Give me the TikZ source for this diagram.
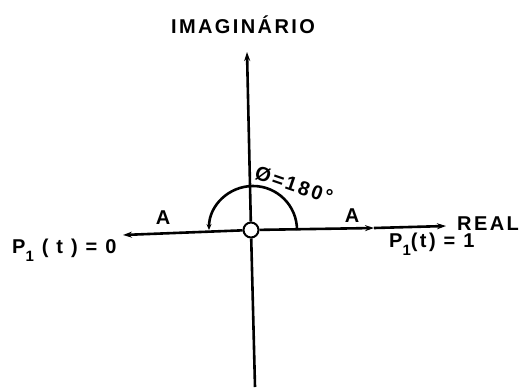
\documentclass[tikz,border=0pt]{standalone}
\usepackage{fontspec}
\setmainfont{Liberation Sans}[LetterSpace=12]
\usetikzlibrary{arrows.meta}
\begin{document}
\begin{tikzpicture}[x=1pt,y=-1pt,
  lbl/.style={font=\bfseries\fontsize{20}{20}\selectfont, inner sep=0pt},
  ax/.style={line width=2.6pt},
  tip/.style={-{Stealth[length=9pt,width=6pt]}}]
\useasboundingbox (0,0) rectangle (521,389);
% origin
\node[draw, circle, minimum size=15pt, line width=2pt, fill=white, inner sep=0pt] (o) at (251,230) {};
\coordinate (top) at (247,52);
\coordinate (bot) at (255,387);
\coordinate (lend) at (123,235);
\coordinate (aend) at (374,228);
\coordinate (rend) at (446,226);
\draw[ax, tip] (o) -- (top);
\draw[ax] (o) -- (bot);
\draw[ax, tip] (o) -- (lend);
\draw[ax, tip] (o) -- (aend);
\draw[ax, tip] (aend) -- (rend);
% angle arc
\draw[ax, -{Stealth[length=6pt,width=5pt]}] ([xshift=46pt]o.center) arc[start angle=0, end angle=180, radius=44pt];
% labels
\node[lbl] (imag) at (243,25) {IMAGINÁRIO};
\node[lbl] (a1) at (163,218) {A};
\node[lbl] (a2) at (352,216) {A};
\node[lbl, rotate=-19] (phi) at (294,185) {Ø=180°};
\node[lbl, anchor=west] (p0) at (12,250) {P\raisebox{-8pt}{\fontsize{15}{15}\selectfont 1} ( t ) = 0};
\node[lbl, anchor=west] (p1) at (389,244) {P\raisebox{-8pt}{\fontsize{15}{15}\selectfont 1}(t) = 1};
\node[lbl, anchor=west] (real) at (457,224) {REAL};
\end{tikzpicture}
\end{document}
